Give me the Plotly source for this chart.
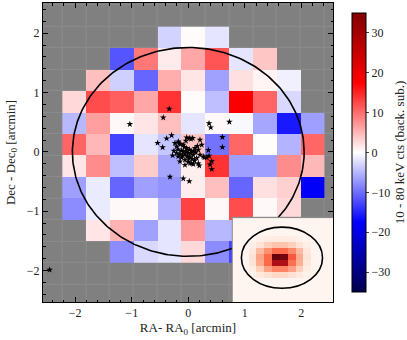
import numpy as np
import plotly.graph_objects as go
import plotly.express as px

# binned map: cell centres [arcmin]
ra_centers = [-2.016, -1.594, -1.172, -0.750, -0.328, 0.094, 0.516, 0.938, 1.360, 1.782, 2.204]
dec_centers = [1.929, 1.567, 1.204, 0.842, 0.479, 0.117, -0.246, -0.608, -0.970, -1.333, -1.695]

N = None
# background-subtracted 10-80 keV counts, top row first
counts = [
    [N, N, N, N, -3.0, 0.3, -1.8, N, N, N, N],
    [N, N, -11.7, 9.3, 1.4, 6.1, 11.7, -1.8, 3.9, N, N],
    [N, 4.4, -3.2, -10.5, 5.6, 1.8, -6.5, 2.1, 0.7, -1.0, N],
    [2.6, 12.2, 11.0, 6.1, 14.0, 0.3, -4.4, 18.0, 10.6, -2.6, N],
    [-4.9, 6.6, 0.5, 1.8, 4.4, -1.8, 0.5, -0.5, -6.1, -15.8, -6.6],
    [10.6, 4.9, -13.0, -1.8, -4.0, 3.9, -9.6, 10.5, 0.2, -5.2, 10.5],
    [1.8, 7.9, -4.4, 3.5, -6.1, 1.2, 14.0, -6.6, -6.6, 7.9, 4.9],
    [-6.6, -1.4, -10.5, -6.6, -7.4, 1.2, 4.4, -10.5, 2.1, 3.2, -18.0],
    [-7.9, -1.4, 0.5, 0.5, -5.2, 13.0, 0.5, 12.2, 0.5, 2.6, N],
    [N, 1.8, 5.2, -6.5, -1.8, 7.0, -4.9, -5.0, 1.0, -2.0, N],
    [N, N, -7.9, -2.6, -1.8, 2.6, -7.9, -13.0, -3.0, N, N],
]

# source positions [arcmin]
star_ra = [
    -0.337, -0.443, -1.034, 0.367, 0.397, 0.727, 0.603, 0.603, -0.543, -0.454,
    -0.383, -0.295, 0.355, 0.367, 0.415, 0.385, 0.415, 0.284, -0.324, -0.089,
    0.018, -2.452,
    -0.236, -0.177, -0.206, -0.254, -0.206, -0.277, -0.177, -0.117, -0.147, -0.059,
    -0.089, -0.028, 0.000, 0.030, 0.060, 0.089, 0.119, 0.149, 0.018, 0.078,
    0.048, 0.207, 0.238, 0.177, 0.207, 0.266, 0.326, -0.059, 0.030, 0.089,
    0.195, -0.135, -0.089, -0.028, -0.041, 0.177, 0.060, 0.000, -0.160, -0.120,
    -0.060, -0.030, 0.020, 0.040, 0.100, 0.130, -0.150, -0.100, 0.010, 0.070,
    -0.020, 0.110, -0.180, 0.160, -0.070,
]
star_dec = [
    0.725, 0.578, 0.468, 0.480, 0.412, 0.507, 0.248, 0.079, 0.150, 0.076,
    0.226, 0.280, 0.029, -0.068, -0.157, -0.213, -0.292, -0.095, -0.422, -0.450,
    -0.495, -1.987,
    0.147, 0.176, 0.091, 0.017, -0.022, -0.061, -0.078, -0.095, -0.162, -0.135,
    0.007, 0.063, -0.022, -0.078, 0.007, -0.051, 0.063, -0.106, 0.231, 0.231,
    0.220, 0.203, 0.118, 0.034, -0.051, -0.078, -0.095, -0.220, -0.191, -0.208,
    -0.230, 0.130, 0.118, 0.243, 0.186, -0.196, -0.196, -0.169, 0.142, 0.020,
    -0.040, 0.010, 0.040, -0.020, 0.020, -0.010, -0.040, -0.060, -0.110, -0.120,
    -0.080, -0.150, 0.040, 0.100, 0.080,
]

# extraction region (ellipse) [arcmin]
ell_center = (0.0, 0.0)
ell_axes = (2.05, 1.76)

# inset: PSF image, top row first
psf = [
    [0, 0, 0, 0, 0, 0, 0, 0, 0, 0, 0, 0, 0],
    [0, 0, 0, 0, 0, 0, 0, 0, 0, 0, 0, 0, 0],
    [0, 0, 0, 0, 0, 0, 0, 0, 0, 0, 0, 0, 0],
    [0, 0, 0, 0.03, 0.05, 0.06, 0.06, 0.05, 0.03, 0, 0, 0, 0],
    [0, 0, 0.04, 0.10, 0.18, 0.22, 0.22, 0.18, 0.10, 0.04, 0, 0, 0],
    [0, 0, 0.08, 0.25, 0.38, 0.50, 0.50, 0.40, 0.25, 0.08, 0, 0, 0],
    [0, 0, 0.12, 0.32, 0.50, 1.00, 0.97, 0.55, 0.30, 0.10, 0, 0, 0],
    [0, 0, 0.10, 0.30, 0.50, 0.85, 0.85, 0.48, 0.28, 0.08, 0, 0, 0],
    [0, 0, 0.05, 0.18, 0.33, 0.42, 0.42, 0.33, 0.18, 0.05, 0, 0, 0],
    [0, 0, 0.02, 0.07, 0.12, 0.15, 0.15, 0.12, 0.07, 0.02, 0, 0, 0],
    [0, 0, 0, 0, 0, 0, 0, 0, 0, 0, 0, 0, 0],
    [0, 0, 0, 0, 0, 0, 0, 0, 0, 0, 0, 0, 0],
    [0, 0, 0, 0, 0, 0, 0, 0, 0, 0, 0, 0, 0],
    [0, 0, 0, 0, 0, 0, 0, 0, 0, 0, 0, 0, 0],
]
psf_ell_center = (5.79, 6.08)
psf_ell_axes = (5.19, 5.08)

FONT = "Liberation Serif"
seismic = [[0.0, "rgb(0,0,77)"], [0.25, "rgb(0,0,255)"], [0.5, "rgb(255,255,255)"],
           [0.75, "rgb(255,0,0)"], [1.0, "rgb(128,0,0)"]]

fig = go.Figure()

# gray "bad value" cells with faint edges, covering the whole axes
dx = ra_centers[1] - ra_centers[0]
dy = dec_centers[1] - dec_centers[0]
bg_x = np.arange(ra_centers[0] - 2 * dx, ra_centers[-1] + 2.5 * dx, dx)
bg_y = np.arange(dec_centers[0] - 2 * dy, dec_centers[-1] + 2.5 * dy, dy)
fig.add_trace(go.Heatmap(x=bg_x, y=bg_y, z=np.ones((len(bg_y), len(bg_x))),
                         colorscale=[[0, "#808080"], [1, "#808080"]], showscale=False,
                         xgap=1, ygap=1, hoverinfo="skip"))

fig.add_trace(go.Heatmap(
    x=ra_centers, y=dec_centers, z=counts, colorscale=seismic, zmin=-35, zmax=35,
    hoverinfo="skip",
    colorbar=dict(x=1.03, xanchor="left", y=0.5, yanchor="middle", len=1.0, thickness=14,
                  outlinecolor="black", outlinewidth=1, ticks="outside", ticklen=3,
                  tickvals=[-30, -20, -10, 0, 10, 20, 30],
                  tickfont=dict(family=FONT, size=12, color="#222"),
                  title=dict(text="10 - 80 keV cts (back. sub.)", side="right",
                             font=dict(family=FONT, size=13, color="#222"))),
))

t = np.linspace(0, 2 * np.pi, 300)
fig.add_trace(go.Scatter(x=ell_center[0] + ell_axes[0] * np.cos(t),
                         y=ell_center[1] + ell_axes[1] * np.sin(t),
                         mode="lines", line=dict(color="black", width=1.6),
                         hoverinfo="skip", showlegend=False))

fig.add_trace(go.Scatter(x=star_ra, y=star_dec, mode="markers",
                         marker=dict(symbol="star", size=5, color="black", line=dict(width=0)),
                         hoverinfo="skip", showlegend=False))

# inset
fig.add_trace(go.Heatmap(z=psf, colorscale=px.colors.sequential.Reds, zmin=0, zmax=1,
                         showscale=False, hoverinfo="skip", xaxis="x2", yaxis="y2"))
fig.add_shape(type="circle", xref="x2", yref="y2",
              x0=psf_ell_center[0] - psf_ell_axes[0], x1=psf_ell_center[0] + psf_ell_axes[0],
              y0=psf_ell_center[1] - psf_ell_axes[1], y1=psf_ell_center[1] + psf_ell_axes[1],
              line=dict(color="black", width=1.6))

axis_common = dict(ticks="inside", ticklen=5, tickcolor="black", dtick=1, tick0=0,
                   minor=dict(ticks="inside", ticklen=2.5, dtick=0.2, tickcolor="black"),
                   mirror="allticks", showline=True, linecolor="black", linewidth=1,
                   showgrid=False, zeroline=False, automargin=False,
                   tickfont=dict(family=FONT, size=12, color="#222"))

fig.update_layout(
    width=407, height=340,
    margin=dict(l=43, r=74, t=3, b=38, autoexpand=False),
    paper_bgcolor="white", plot_bgcolor="#8c8c8c",
    showlegend=False,
    xaxis=dict(range=[-2.57, 2.56], domain=[0, 1],
               title=dict(text="RA- RA<sub>0</sub> [arcmin]", standoff=3,
                          font=dict(family=FONT, size=13, color="#222")),
               **axis_common),
    yaxis=dict(range=[-2.53, 2.51], domain=[0, 1],
               title=dict(text="Dec - Dec<sub>0</sub> [arcmin]", standoff=8,
                          font=dict(family=FONT, size=13, color="#222")),
               **axis_common),
    xaxis2=dict(domain=[0.651, 1.0], anchor="y2", range=[-0.63, 12.32],
                showticklabels=False, ticks="", showgrid=False, zeroline=False, showline=False),
    yaxis2=dict(domain=[0.0, 0.285], anchor="x2", range=[13.45, -0.72],
                showticklabels=False, ticks="", showgrid=False, zeroline=False, showline=False),
)

# drop the browser's default page margin so the figure sits at the window origin
fig.write_html("out.html", config={"displayModeBar": False},
               post_script="document.body.style.margin = '0';")
